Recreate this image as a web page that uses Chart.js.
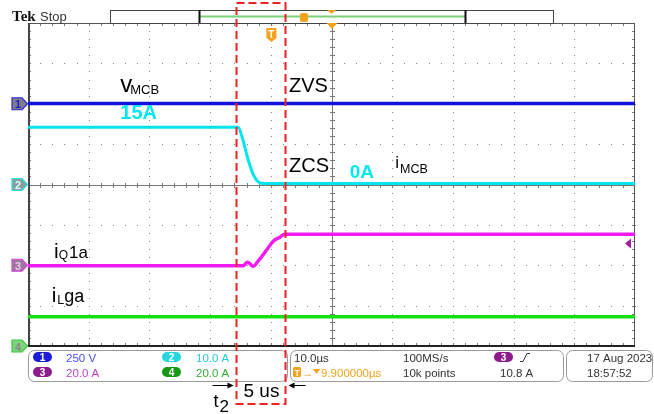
<!DOCTYPE html>
<html>
<head>
<meta charset="utf-8">
<script src="https://cdn.jsdelivr.net/npm/chart.js@4.4.0/dist/chart.umd.min.js"></script>
<style>
  html, body { margin: 0; padding: 0; background: #fff; }
  #wrap { width: 654px; height: 414px; }
</style>
</head>
<body>
<div id="wrap"><canvas id="scope" width="654" height="414"></canvas></div>
<script>
// screen time in us, 10 us/div over 10 div; trigger point at 40.1 us
const timeMin = 0;
const timeMax = 100;
const triggerTime = 40.1;

// scope channel settings
const chanNames = ["1", "2", "3", "4"];
const perDiv = [250, 10, 20, 20];
const offsetDiv = [2, 0, -2, -4];
const scaleLabels = ["250 V", "10.0 A", "20.0 A", "20.0 A"];

// ch1: v_MCB (V)
const tVmcb = [0, 100];
const vMcb = [1, 1];

// ch2: i_MCB (A)
const tImcb = [0, 34.6, 35.4, 36.1, 36.6, 37.1, 37.7, 38.7, 100];
const iMcb = [14.2, 14.2, 11.1, 7.0, 4.5, 2.5, 1.0, 0.25, 0.25];

// ch3: i_Q1a (A)
const tIq1a = [0, 35.4, 36.2, 37.1, 37.9, 39.4, 40.4, 41.5, 42.3, 100];
const iQ1a = [-0.3, -0.3, 1.5, -0.5, 2.0, 7.9, 11.9, 13.9, 15.4, 15.4];

// ch4: i_Lga (A)
const tIlga = [0, 100];
const iLga = [14.5, 14.5];

// trigger level on ch3 (A)
const trigLevel = 10.8;

// the two dashed marks bounding the 5 us interval
const windowStart = 34.3;
const windowEnd = 42.3;

function toDiv(ch, times, values) {
  return times.map((t, i) => ({ x: t, y: values[i] / perDiv[ch] + offsetDiv[ch] }));
}

function richText(ctx, x, y, parts) {
  let cx = x;
  parts.forEach(p => {
    ctx.font = p[1];
    ctx.fillText(p[0], cx, y + p[2]);
    cx += ctx.measureText(p[0]).width + (p[3] || 0);
  });
}

function roundRect(ctx, x, y, w, h, r) {
  ctx.beginPath();
  ctx.moveTo(x + r, y);
  ctx.arcTo(x + w, y, x + w, y + h, r);
  ctx.arcTo(x + w, y + h, x, y + h, r);
  ctx.arcTo(x, y + h, x, y, r);
  ctx.arcTo(x, y, x + w, y, r);
  ctx.closePath();
}

function pill(ctx, x, y, color, label) {
  roundRect(ctx, x, y, 19, 10, 5);
  ctx.fillStyle = color;
  ctx.fill();
  ctx.fillStyle = "#fff";
  ctx.font = "bold 10px 'Liberation Sans'";
  ctx.textAlign = "center";
  ctx.fillText(label, x + 9.5, y + 9);
  ctx.textAlign = "left";
}

const graticule = {
  id: "graticule",
  beforeDatasetsDraw(chart) {
    const { ctx, chartArea: a, scales: { x, y } } = chart;
    const subX = (x.getPixelForValue(10) - x.getPixelForValue(0)) / 5;
    const subY = (y.getPixelForValue(0) - y.getPixelForValue(1)) / 5;
    ctx.save();
    ctx.fillStyle = "#8a8a8a";
    for (let t = 10; t < 100; t += 10) {
      if (t === 50) continue;
      const px = Math.round(x.getPixelForValue(t));
      for (let k = 0; k <= 40; k++) ctx.fillRect(px, Math.round(a.top + k * subY), 1, 1);
    }
    for (let d = -3; d < 4; d++) {
      if (d === 0) continue;
      const py = Math.round(y.getPixelForValue(d));
      for (let k = 0; k <= 50; k++) ctx.fillRect(Math.round(a.left + k * subX), py, 1, 1);
    }
    // centre crosshair with minor ticks
    const cx = Math.round(x.getPixelForValue(50)) + 0.5;
    const cy = Math.round(y.getPixelForValue(0)) + 0.5;
    ctx.strokeStyle = "#777";
    ctx.lineWidth = 1;
    ctx.beginPath();
    ctx.moveTo(cx, a.top); ctx.lineTo(cx, a.bottom);
    ctx.moveTo(a.left, cy); ctx.lineTo(a.right, cy);
    for (let k = 1; k < 40; k++) {
      const py = Math.round(a.top + k * subY) + 0.5;
      ctx.moveTo(cx - 2.5, py); ctx.lineTo(cx + 2.5, py);
      ctx.moveTo(a.left, py); ctx.lineTo(a.left + 3, py);
      ctx.moveTo(a.right, py); ctx.lineTo(a.right - 3, py);
    }
    for (let k = 1; k < 50; k++) {
      const px = Math.round(a.left + k * subX) + 0.5;
      ctx.moveTo(px, cy - 2.5); ctx.lineTo(px, cy + 2.5);
      ctx.moveTo(px, a.top); ctx.lineTo(px, a.top + 3);
      ctx.moveTo(px, a.bottom); ctx.lineTo(px, a.bottom - 3);
    }
    ctx.stroke();
    // frame
    ctx.strokeStyle = "#555";
    ctx.beginPath();
    ctx.moveTo(a.left, a.top + 0.5); ctx.lineTo(a.right, a.top + 0.5);
    ctx.moveTo(a.right - 0.5, a.top); ctx.lineTo(a.right - 0.5, a.bottom);
    ctx.stroke();
    ctx.strokeStyle = "#444";
    ctx.lineWidth = 2;
    ctx.beginPath();
    ctx.moveTo(a.left + 1, a.top); ctx.lineTo(a.left + 1, a.bottom);
    ctx.stroke();
    ctx.strokeStyle = "#222";
    ctx.beginPath();
    ctx.moveTo(a.left, a.bottom); ctx.lineTo(a.right, a.bottom);
    ctx.stroke();
    ctx.restore();
  },
  afterDraw(chart) {
    const { ctx, chartArea: a, scales: { x, y } } = chart;
    const px = t => x.getPixelForValue(t);
    const py = d => y.getPixelForValue(d);
    ctx.save();

    // header
    ctx.fillStyle = "#111";
    ctx.font = "bold 15px 'Liberation Serif'";
    ctx.fillText("Tek", 12, 21);
    ctx.fillStyle = "#333";
    ctx.font = "13px 'Liberation Sans'";
    ctx.fillText("Stop", 40, 21);
    ctx.strokeStyle = "#444";
    ctx.lineWidth = 1;
    ctx.strokeRect(110.5, 10.5, 443, 13);
    ctx.strokeStyle = "#7bd27b";
    ctx.lineWidth = 2;
    ctx.beginPath(); ctx.moveTo(199, 16.5); ctx.lineTo(465, 16.5); ctx.stroke();
    ctx.strokeStyle = "#111";
    ctx.beginPath();
    ctx.moveTo(199.5, 10); ctx.lineTo(199.5, 23);
    ctx.moveTo(465.5, 10); ctx.lineTo(465.5, 23);
    ctx.stroke();
    ctx.fillStyle = "#f5a21a";
    roundRect(ctx, 300, 13, 8, 9, 2); ctx.fill();
    ctx.beginPath(); ctx.moveTo(327, 10); ctx.lineTo(336, 10); ctx.lineTo(331.5, 14); ctx.fill();

    // orange markers on graticule
    const tx = px(triggerTime);
    ctx.fillStyle = "#f5a21a";
    ctx.beginPath();
    ctx.moveTo(tx - 5, 28); ctx.lineTo(tx + 5, 28); ctx.lineTo(tx + 5, 38);
    ctx.lineTo(tx, 42); ctx.lineTo(tx - 5, 38); ctx.closePath(); ctx.fill();
    ctx.fillStyle = "#fff";
    ctx.font = "bold 10px 'Liberation Sans'";
    ctx.textAlign = "center";
    ctx.fillText("T", tx, 38);
    ctx.textAlign = "left";
    const cx = px(50);
    ctx.fillStyle = "#f5a21a";
    ctx.beginPath(); ctx.moveTo(cx - 5, a.top); ctx.lineTo(cx + 6, a.top); ctx.lineTo(cx + 0.5, a.top + 6); ctx.fill();

    // channel ground markers
    const markFill = ["#7d7d8c", "#86a0a0", "#9a7a9a", "#7fd27f"];
    const markStroke = ["#2a2ae0", "#28e0e8", "#e040e0", "#3cc83c"];
    const markText = ["#2020c8", "#d8ffff", "#f0c0f0", "#888"];
    chanNames.forEach((n, c) => {
      const my = py(offsetDiv[c]);
      ctx.beginPath();
      ctx.moveTo(12, my - 6); ctx.lineTo(22, my - 6); ctx.lineTo(27.5, my);
      ctx.lineTo(22, my + 6); ctx.lineTo(12, my + 6); ctx.closePath();
      ctx.fillStyle = markFill[c]; ctx.fill();
      ctx.strokeStyle = markStroke[c]; ctx.lineWidth = 1.2; ctx.stroke();
      ctx.fillStyle = markText[c];
      ctx.font = "bold 11px 'Liberation Sans'";
      ctx.fillText(n, 15, my + 4.5);
    });

    // trigger level arrow
    const ly = py(trigLevel / perDiv[2] + offsetDiv[2]);
    ctx.fillStyle = "#a01ea0";
    ctx.beginPath(); ctx.moveTo(625, ly); ctx.lineTo(631, ly - 5); ctx.lineTo(631, ly + 5); ctx.fill();

    // annotations
    ctx.fillStyle = "#000";
    richText(ctx, px(15.2), py(2.3), [["v", "24px 'Liberation Sans'", 0, -2], ["MCB", "13px 'Liberation Sans'", 2]]);
    richText(ctx, px(43.0), py(2.3), [["ZVS", "20px 'Liberation Sans'", 0]]);
    richText(ctx, px(43.0), py(0.32), [["ZCS", "20px 'Liberation Sans'", 0]]);
    richText(ctx, px(60.5), py(0.42), [["i", "17px 'Liberation Sans'", 0, 1], ["MCB", "12.5px 'Liberation Sans'", 5]]);
    richText(ctx, px(4.3), py(-1.81), [["i", "21px 'Liberation Sans'", 0, 0], ["Q", "12px 'Liberation Sans'", 1, 1], ["1a", "17px 'Liberation Sans'", 0]]);
    richText(ctx, px(3.9), py(-2.92), [["i", "21px 'Liberation Sans'", 0, 1], ["L", "12.5px 'Liberation Sans'", 2, 0], ["ga", "18px 'Liberation Sans'", 0]]);
    ctx.fillStyle = "#00e8f0";
    richText(ctx, px(15.2), py(1.61), [["15A", "bold 20px 'Liberation Sans'", 0]]);
    richText(ctx, px(53.0), py(0.17), [["0A", "bold 19px 'Liberation Sans'", 0]]);

    // footer panels
    ctx.strokeStyle = "#9a9a9a";
    ctx.lineWidth = 1;
    roundRect(ctx, 28.5, 350.5, 259, 31, 6); ctx.stroke();
    roundRect(ctx, 290.5, 350.5, 273, 31, 6); ctx.stroke();
    roundRect(ctx, 566.5, 350.5, 86, 31, 6); ctx.stroke();
    pill(ctx, 33, 352, "#1c1cd6", "1");
    pill(ctx, 33, 367, "#8c1c8c", "3");
    pill(ctx, 162, 352, "#26d6e0", "2");
    pill(ctx, 162, 367, "#169a16", "4");
    pill(ctx, 494, 352, "#8c1c8c", "3");
    ctx.font = "11.5px 'Liberation Sans'";
    const labelColors = ["#4a4aff", "#22c8d8", "#c040c0", "#30b030"];
    ctx.fillStyle = labelColors[0]; ctx.fillText(scaleLabels[0], 66, 362);
    ctx.fillStyle = labelColors[1]; ctx.fillText(scaleLabels[1], 196, 362);
    ctx.fillStyle = labelColors[2]; ctx.fillText(scaleLabels[2], 66, 377);
    ctx.fillStyle = labelColors[3]; ctx.fillText(scaleLabels[3], 196, 377);
    ctx.fillStyle = "#333";
    ctx.fillText("10.0\u00b5s", 294, 362);
    ctx.fillText("100MS/s", 403, 362);
    ctx.fillText("10k points", 403, 377);
    ctx.fillText(trigLevel.toFixed(1) + " A", 500, 377);
    ctx.fillText("17 Aug 2023", 587, 362);
    ctx.fillText("18:57:52", 587, 377);
    ctx.strokeStyle = "#333";
    ctx.beginPath();
    ctx.moveTo(520, 361.5); ctx.lineTo(523, 361.5); ctx.lineTo(527, 353.5); ctx.lineTo(530, 353.5);
    ctx.stroke();
    ctx.fillStyle = "#f5a21a";
    roundRect(ctx, 293, 367, 8, 10, 1.5); ctx.fill();
    ctx.fillStyle = "#fff";
    ctx.font = "bold 9px 'Liberation Sans'";
    ctx.fillText("T", 294.5, 375.5);
    ctx.fillStyle = "#f5a21a";
    ctx.font = "11.5px 'Liberation Sans'";
    ctx.fillText("\u2192", 302, 377);
    ctx.beginPath(); ctx.moveTo(313, 369); ctx.lineTo(320, 369); ctx.lineTo(316.5, 374); ctx.fill();
    ctx.fillText("9.900000\u00b5s", 321, 377);

    // dashed 5 us window
    const wl = Math.round(px(windowStart)) + 0.5;
    const wr = Math.round(px(windowEnd)) + 0.5;
    ctx.strokeStyle = "#ee2222";
    ctx.lineWidth = 2;
    ctx.setLineDash([8, 4]);
    ctx.strokeRect(wl, 3, wr - wl, 401);
    ctx.setLineDash([]);

    // 5 us label and arrows
    ctx.fillStyle = "#000";
    richText(ctx, wl + 7, 397, [["5 us", "19px 'Liberation Sans'", 0]]);
    richText(ctx, wl - 23, 407, [["t", "18px 'Liberation Sans'", 0, 1], ["2", "17px 'Liberation Sans'", 5]]);
    ctx.strokeStyle = "#000";
    ctx.lineWidth = 1;
    ctx.beginPath();
    ctx.moveTo(wl - 24, 385.5); ctx.lineTo(wl - 6, 385.5);
    ctx.moveTo(wr + 20, 385.5); ctx.lineTo(wr + 6, 385.5);
    ctx.stroke();
    ctx.beginPath();
    ctx.moveTo(wl - 3, 385.5); ctx.lineTo(wl - 9, 382.5); ctx.lineTo(wl - 9, 388.5); ctx.closePath();
    ctx.moveTo(wr + 3, 385.5); ctx.lineTo(wr + 9, 382.5); ctx.lineTo(wr + 9, 388.5); ctx.closePath();
    ctx.fill();

    ctx.restore();
  }
};

const ctx = document.getElementById("scope").getContext("2d");
const chart = new Chart(ctx, {
  type: "line",
  data: {
    datasets: [
      { label: "vMCB", data: toDiv(0, tVmcb, vMcb), borderColor: "#1212dc", borderWidth: 3.5 },
      { label: "iMCB", data: toDiv(1, tImcb, iMcb), borderColor: "#00e6f0", borderWidth: 3, cubicInterpolationMode: "monotone" },
      { label: "iQ1a", data: toDiv(2, tIq1a, iQ1a), borderColor: "#f21cf2", borderWidth: 3.5, cubicInterpolationMode: "monotone" },
      { label: "iLga", data: toDiv(3, tIlga, iLga), borderColor: "#14e014", borderWidth: 3.5 }
    ]
  },
  options: {
    responsive: false,
    animation: false,
    events: [],
    layout: { padding: { left: 28, right: 19, top: 23, bottom: 68 } },
    elements: { point: { radius: 0 } },
    plugins: { legend: { display: false }, tooltip: { enabled: false } },
    scales: {
      x: { type: "linear", display: false, min: timeMin, max: timeMax },
      y: { type: "linear", display: false, min: -4, max: 4 }
    }
  },
  plugins: [graticule]
});
</script>
</body>
</html>
